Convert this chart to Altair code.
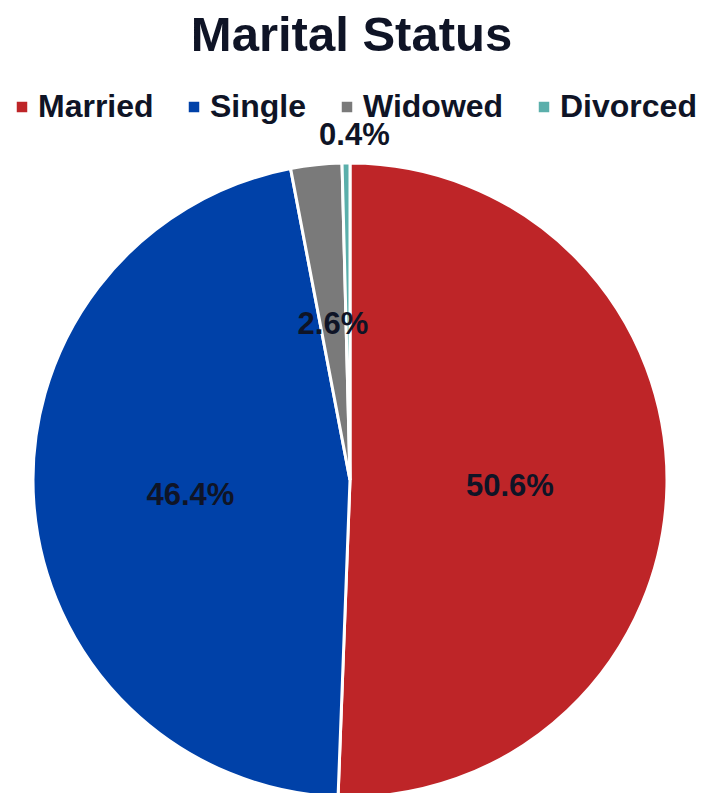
import altair as alt
import pandas as pd

categories = ["Married", "Single", "Widowed", "Divorced"]
values = [50.6, 46.4, 2.6, 0.4]
labels = ["50.6%", "46.4%", "2.6%", "0.4%"]
colors = ["#BE2528", "#0041A8", "#7A7A7A", "#5BAFAB"]

df = pd.DataFrame({
    "Status": categories,
    "Value": values,
    "Label": labels,
    "idx": list(range(len(categories))),
})

FONT = "Liberation Sans"
TXT = "#0F1426"
CX, CY, R = 350, 480, 317

base = alt.Chart(df).encode(
    theta=alt.Theta("Value:Q", stack=True),
    order=alt.Order("idx:Q"),
)

pie = base.mark_arc(stroke="white", strokeWidth=3, outerRadius=R).encode(
    x=alt.value(CX),
    y=alt.value(CY),
    color=alt.Color(
        "Status:N",
        scale=alt.Scale(domain=categories, range=colors),
        sort=categories,
        legend=alt.Legend(
            title=None,
            orient="none",
            legendX=6,
            legendY=91,
            direction="horizontal",
            symbolType="square",
            symbolSize=110,
            symbolStrokeWidth=0,
            labelFont=FONT,
            labelFontSize=32,
            labelFontWeight="bold",
            labelColor=TXT,
            labelOffset=0,
            columnPadding=24,
            labelLimit=300,
        ),
    ),
)

text = base.transform_calculate(
    lr="datum.Status == 'Divorced' ? 348 : 160"
).mark_text(
    font=FONT, fontSize=31, fontWeight="bold", color=TXT, dy=4
).encode(
    x=alt.value(CX),
    y=alt.value(CY),
    radius=alt.Radius("lr:Q", scale=None),
    text="Label:N",
)

chart = alt.layer(pie, text).properties(
    width=703,
    height=793,
    autosize=alt.AutoSizeParams(type="none"),
    padding=0,
    title=alt.TitleParams(
        "Marital Status",
        font=FONT,
        fontSize=49,
        fontWeight="bold",
        color=TXT,
        anchor="middle",
        offset=0,
        dy=61,
    ),
).configure_view(stroke=None)

chart.save("out.html", embed_options={"renderer": "svg", "actions": False})
